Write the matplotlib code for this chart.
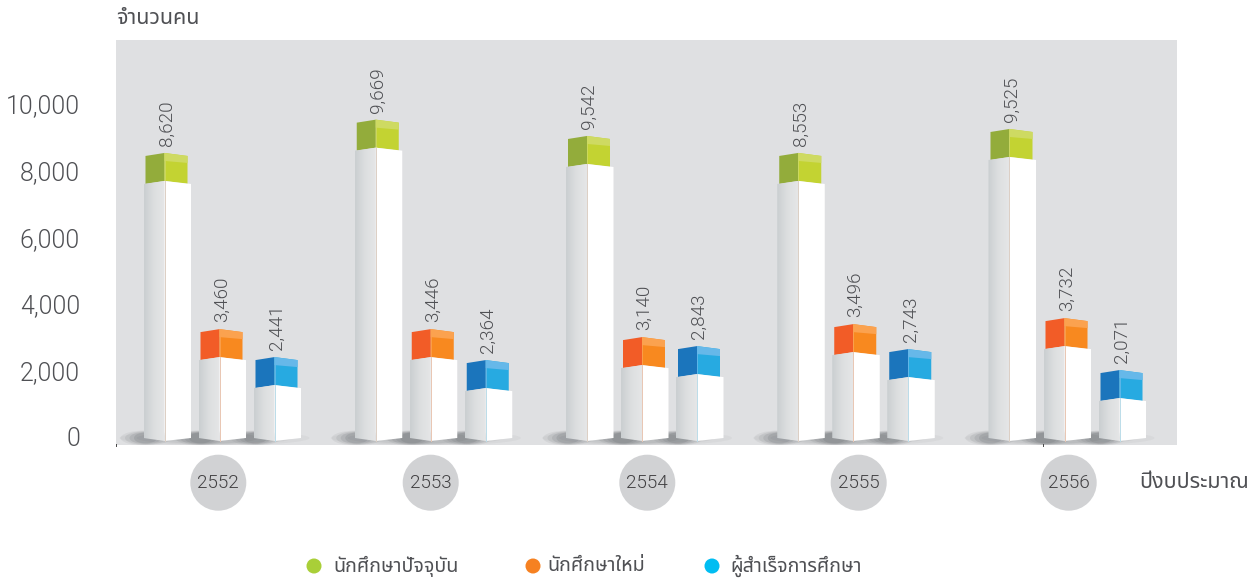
import numpy as np
import matplotlib
matplotlib.use('Agg')
import matplotlib.pyplot as plt
from matplotlib.colors import LinearSegmentedColormap
from matplotlib.patches import Polygon, Ellipse

plt.rcParams['font.family'] = ['Roboto', 'DejaVu Sans']
plt.rcParams['font.weight'] = 300
FONT_THAI = ['Noto Sans Thai', 'Noto Sans Thai UI', 'Niramit', 'DejaVu Sans']

W, H = 1259, 581
years = ['2552', '2553', '2554', '2555', '2556']
series_names = ['นักศึกษาปัจจุบัน', 'นักศึกษาใหม่', 'ผู้สำเร็จการศึกษา']

# valores de las etiquetas
current = [8620, 9669, 9542, 8553, 9525]
new = [3460, 3446, 3140, 3496, 3732]
graduated = [2441, 2364, 2843, 2743, 2071]

# alturas dibujadas, leidas del eje: en el original no coinciden del todo con las etiquetas
current_drawn = [8530, 9530, 9040, 8530, 9250]
new_drawn = [3240, 3240, 3000, 3390, 3570]
graduated_drawn = [2400, 2310, 2730, 2640, 2010]

yticks = [0, 2000, 4000, 6000, 8000, 10000]

GRAY_BG = '#DFE0E2'
TXT = '#4F5054'
# cara izquierda, cara derecha, banda clara, linea de la arista
cols = [('#93AC3B', '#C3D332', '#CEDA62', '#DCCFC4'),
        ('#F25C27', '#F8891F', '#FBA24F', '#E9C6B2'),
        ('#1B75BC', '#27AAE1', '#66B8E9', '#BBDCE9')]
legend_cols = ['#A9CF38', '#F68121', '#00BDF2']

fig = plt.figure(figsize=(W / 100, H / 100), dpi=100, facecolor='white')
ax = fig.add_axes([116 / W, 1 - 445 / H, (1177 - 116) / W, (445 - 40) / H])
ax.set_facecolor(GRAY_BG)

# un grupo = 211.25 px en x, 10000 = 333 px en y
PX_X = 1 / 211.25
PX_Y = 10000 / 333
X0 = 219.5
XLIM = ((116 - X0) * PX_X, (1177 - X0) * PX_X)
YLIM = ((437 - 445) * PX_Y, (437 - 40) * PX_Y)
for s in ax.spines.values():
    s.set_visible(False)
ax.set_xticks([])
ax.set_yticks(yticks)
ax.set_yticklabels([f'{v:,}' for v in yticks], fontsize=17.9, color=TXT)
for t in ax.get_yticklabels():
    t.set_va('center_baseline')
ax.tick_params(axis='y', length=0, pad=26)

col_cmap = LinearSegmentedColormap.from_list('col', ['#CBCFD1', '#DDDFE0', '#E5E6E7'])


def poly(pts, color, z):
    p = Polygon(pts, closed=True, facecolor=color, edgecolor='none', zorder=z)
    ax.add_patch(p)
    return p


def draw_shadow(xc, width_px, a):
    for k, al in zip([1.0, 0.82, 0.64, 0.46], [a, a * 1.3, a * 1.6, a * 2]):
        ax.add_patch(Ellipse((xc, -1 * PX_Y), width_px * k * PX_X, 15 * (0.5 + k / 2) * PX_Y,
                             facecolor='#5A5E62', alpha=al, edgecolor='none', zorder=1))


def draw_bar(xc, top, label, c):
    cube_bot = top - 28 * PX_Y
    xl, xr = xc - 21 * PX_X, xc + 26.5 * PX_X
    cl, cr = xc - 19 * PX_X, xc + 23 * PX_X
    dy = 3 * PX_Y
    base = -4 * PX_Y

    draw_shadow(xl + 2 * PX_X, 50, 0.08)

    # columna blanca
    left = poly([(xl, cube_bot - dy), (xc, cube_bot), (xc, base), (xl, base + 3 * PX_Y)], 'none', 3)
    im = ax.imshow(np.linspace(0, 1, 32).reshape(1, -1), cmap=col_cmap,
                   extent=(xl, xc, base, cube_bot), aspect='auto', zorder=3)
    im.set_clip_path(left)
    poly([(xc, cube_bot), (xr, cube_bot - dy), (xr, base + 3 * PX_Y), (xc, base)], 'white', 3)
    ax.plot([xc, xc], [base, cube_bot], color=c[3], lw=0.7, zorder=4)

    # cubo de color
    poly([(cl, top - dy), (xc, top), (xc, cube_bot), (cl, cube_bot - dy)], c[0], 2)
    poly([(xc, top), (cr, top - dy), (cr, cube_bot - dy), (xc, cube_bot)], c[1], 2)
    poly([(xc, top), (cr, top - dy), (cr, top - 10 * PX_Y), (xc, top - 8 * PX_Y)], c[2], 2.5)
    ax.plot([xc, xc], [cube_bot, top], color=c[2], lw=0.6, zorder=2.6)

    ax.annotate(f'{label:,}', (xc, top), xytext=(1.5, 5), textcoords='offset points',
                rotation=90, ha='center', va='bottom', fontsize=13.6, color=TXT, zorder=5)


offsets = [-55 * PX_X, 0, 55 * PX_X]
for i in range(len(years)):
    draw_shadow(i - 5 * PX_X, 190, 0.05)
    rows = zip(offsets, [current_drawn, new_drawn, graduated_drawn], [current, new, graduated], cols)
    for off, drawn, vals, c in rows:
        draw_bar(i + off, drawn[i], vals[i], c)
ax.set_aspect('auto')
ax.set_xlim(XLIM)
ax.set_ylim(YLIM)

# capa en pixeles para circulos, leyenda y titulos
ov = fig.add_axes([0, 0, 1, 1], facecolor='none')
ov.set_xlim(0, W)
ov.set_ylim(H, 0)
ov.axis('off')
for cx, yr in zip([218.3, 430.7, 647.3, 858.7, 1068.7], years):
    ov.add_patch(Ellipse((cx, 482.7), 56, 56, facecolor='#D1D2D4', edgecolor='none'))
    ov.text(cx, 483, yr, ha='center', va='center', fontsize=13.6, color='#414042')

ov.plot([116, 116], [444, 446], color='#444444', lw=0.7)
ov.plot([1043, 1043], [444, 446], color='#444444', lw=0.7)

ov.text(116, 18, 'จำนวนคน', family=FONT_THAI, fontsize=15.5, color=TXT, ha='left', va='center')
ov.text(1139, 482, 'ปีงบประมาณ', family=FONT_THAI, fontsize=15.5, color=TXT, ha='left', va='center')

for x, tx, name, c in zip([314, 533, 712], [333, 547, 730], series_names, legend_cols):
    ov.add_patch(Ellipse((x, 566), 15, 15, facecolor=c, edgecolor='none'))
    ov.text(tx, 566, name, family=FONT_THAI, fontsize=14.1, color=TXT, ha='left', va='center')

fig.savefig('out.png', dpi=100)
